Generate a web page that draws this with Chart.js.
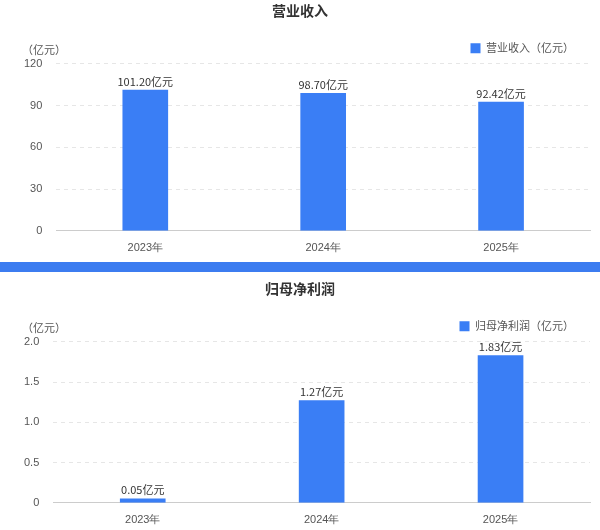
<!DOCTYPE html>
<html><head><meta charset="utf-8">
<script src="https://cdn.jsdelivr.net/npm/chart.js@4/dist/chart.umd.min.js"></script>
<style>
body{margin:0;background:#fff;font-family:"Noto Sans CJK SC",sans-serif;}
.box{position:absolute;left:0;width:600px;}
#c1box{top:0;height:258px}
#c2box{top:278px;height:252px}
.bar{position:absolute;left:0;top:262px;width:600px;height:10px;background:#3c7cf0}
</style></head><body>
<div class="box" id="c1box"><canvas id="c1"></canvas></div>
<div class="bar"></div>
<div class="box" id="c2box"><canvas id="c2"></canvas></div>
<script>
const years = ['2023年', '2024年', '2025年']
const revenue = [101.20, 98.70, 92.42]
const profit = [0.05, 1.27, 1.83]
const revTicks = [0, 30, 60, 90, 120]
const profitTicks = [0, 0.5, 1, 1.5, 2]

const valueLabels = {
  id: 'valueLabels',
  afterDatasetsDraw(chart) {
    const ctx = chart.ctx
    const meta = chart.getDatasetMeta(0)
    ctx.save()
    ctx.font = '11px "Noto Sans CJK SC"'
    ctx.fillStyle = '#333'
    ctx.textAlign = 'center'
    ctx.textBaseline = 'bottom'
    meta.data.forEach((bar, i) => {
      ctx.fillText(chart.data.datasets[0].data[i].toFixed(2) + '亿元', bar.x, bar.y - 3)
    })
    ctx.fillStyle = '#555'
    ctx.textAlign = 'left'
    ctx.fillText('（亿元）', 22, chart.scales.y.top - 8)
    ctx.restore()
  }
}

function makeChart(id, title, label, data, ticks) {
  new Chart(document.getElementById(id), {
    type: 'bar',
    data: {
      labels: years,
      datasets: [{ label: label, data: data, backgroundColor: '#3a7ef5', barThickness: 45 }]
    },
    options: {
      responsive: true,
      maintainAspectRatio: false,
      animation: false,
      layout: { padding: { left: 10, right: 10, top: 0, bottom: 0 } },
      plugins: {
        title: { display: true, text: title, color: '#333', font: { size: 14, weight: 'bold', family: '"Noto Sans CJK SC"' }, padding: { top: 2, bottom: 8 } },
        legend: {
          align: 'end',
          labels: { boxWidth: 10, boxHeight: 10, color: '#555', font: { size: 11, family: '"Noto Sans CJK SC"' }, padding: 16 }
        },
        tooltip: { enabled: false }
      },
      scales: {
        x: {
          grid: { display: false },
          border: { color: '#ccc' },
          ticks: { color: '#555', font: { size: 11 } }
        },
        y: {
          min: ticks[0],
          max: ticks[ticks.length - 1],
          afterBuildTicks: axis => { axis.ticks = ticks.map(v => ({ value: v })) },
          grid: { color: '#e6e6e6', tickLength: 0 },
          border: { display: false, dash: [4, 4] },
          ticks: { color: '#555', font: { size: 11 }, padding: 14 }
        }
      }
    },
    plugins: [valueLabels]
  })
}

makeChart('c1', '营业收入', '营业收入（亿元）', revenue, revTicks)
makeChart('c2', '归母净利润', '归母净利润（亿元）', profit, profitTicks)
</script>
</body></html>
